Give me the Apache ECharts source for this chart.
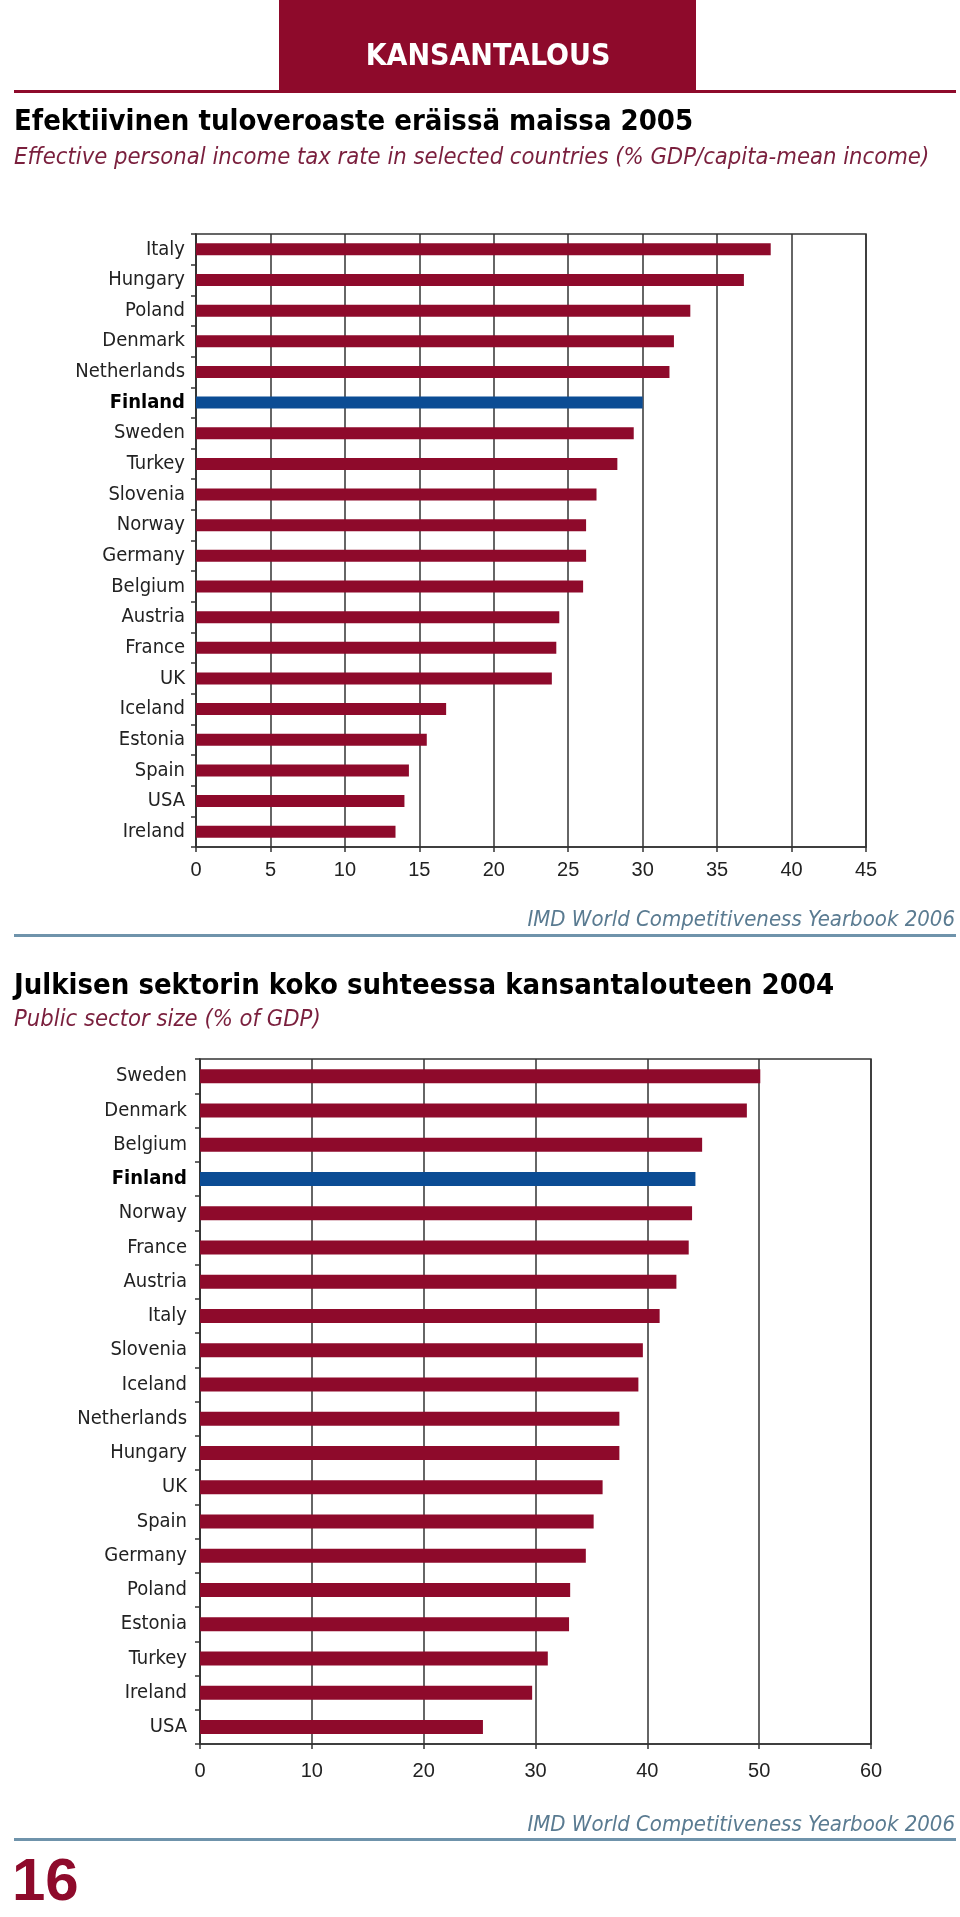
<!DOCTYPE html>
<html>
<head>
<meta charset="utf-8">
<script src="https://cdn.jsdelivr.net/npm/echarts@6/dist/echarts.min.js"></script>
<style>
html,body{margin:0;padding:0;background:#fff;}
#c{width:960px;height:1917px;}
</style>
</head>
<body>
<div id="c"></div>
<script>
// ---- data ----
const cats1 = ['Italy','Hungary','Poland','Denmark','Netherlands','Finland','Sweden','Turkey','Slovenia','Norway','Germany','Belgium','Austria','France','UK','Iceland','Estonia','Spain','USA','Ireland'];
const vals1 = [38.6,36.8,33.2,32.1,31.8,30.0,29.4,28.3,26.9,26.2,26.2,26.0,24.4,24.2,23.9,16.8,15.5,14.3,14.0,13.4];
const cats2 = ['Sweden','Denmark','Belgium','Finland','Norway','France','Austria','Italy','Slovenia','Iceland','Netherlands','Hungary','UK','Spain','Germany','Poland','Estonia','Turkey','Ireland','USA'];
const vals2 = [50.1,48.9,44.9,44.3,44.0,43.7,42.6,41.1,39.6,39.2,37.5,37.5,36.0,35.2,34.5,33.1,33.0,31.1,29.7,25.3];
const highlight = 'Finland';
const header = 'KANSANTALOUS';
const title1 = 'Efektiivinen tuloveroaste eräissä maissa 2005';
const sub1 = 'Effective personal income tax rate in selected countries (% GDP/capita-mean income)';
const title2 = 'Julkisen sektorin koko suhteessa kansantalouteen 2004';
const sub2 = 'Public sector size (% of GDP)';
const source = 'IMD World Competitiveness Yearbook 2006';
const pageNo = '16';

const RED = '#8e0a2b', BLUE = '#0b4c94', AX = '#333333';
const NARROW = "'Liberation Sans Narrow','DejaVu Sans Condensed','Liberation Sans',sans-serif";
const SANS = "'Liberation Sans',Arial,sans-serif";

function barData(cats, vals){
  return vals.map((v,i)=>({value:v, itemStyle:{color: cats[i]===highlight ? BLUE : RED}}));
}
function yAxis(idx, cats, margin){
  return {
    type:'category', gridIndex:idx, data:cats, inverse:true,
    axisLine:{show:true, lineStyle:{color:AX, width:1.5}},
    axisTick:{show:true, length:5, lineStyle:{color:AX, width:1.5}},
    axisLabel:{margin:margin, color:'#222', fontSize:20, fontFamily:NARROW,
      formatter:(v)=> v===highlight ? '{b|'+v+'}' : v,
      rich:{b:{fontWeight:'bold', color:'#000', fontSize:20, fontFamily:NARROW}}}
  };
}
function xAxis(idx, max, interval, margin){
  return {
    type:'value', gridIndex:idx, min:0, max:max, interval:interval,
    axisLine:{show:true, lineStyle:{color:AX, width:1.5}},
    axisTick:{show:true, length:5, lineStyle:{color:AX, width:1.5}},
    splitLine:{show:true, lineStyle:{color:AX, width:1.5}},
    axisLabel:{margin:margin, color:'#222', fontSize:20, fontFamily:SANS}
  };
}
function txt(text, x, y, size, opts){
  return Object.assign({type:'text', x:x, y:y, style:Object.assign({
    text:text, fontSize:size, fontFamily:NARROW, fill:'#111',
    textAlign:'left', textVerticalAlign:'middle', align:'left', verticalAlign:'middle'
  }, opts||{})});
}

const chart = echarts.init(document.getElementById('c'), null, {renderer:'canvas'});
chart.setOption({
  animation:false,
  backgroundColor:'#fff',
  grid:[
    {left:196, top:234, width:670, height:613, show:true, borderColor:AX, borderWidth:1.5, containLabel:false},
    {left:200, top:1059, width:671, height:685, show:true, borderColor:AX, borderWidth:1.5, containLabel:false}
  ],
  xAxis:[xAxis(0,45,5,13), xAxis(1,60,10,17)],
  yAxis:[yAxis(0,cats1,11), yAxis(1,cats2,13)],
  series:[
    {type:'bar', xAxisIndex:0, yAxisIndex:0, data:barData(cats1, vals1), barWidth:12},
    {type:'bar', xAxisIndex:1, yAxisIndex:1, data:barData(cats2, vals2), barWidth:14}
  ],
  graphic:[
    {type:'rect', shape:{x:279, y:0, width:417, height:92}, style:{fill:RED}},
    {type:'rect', shape:{x:14, y:90, width:942, height:3}, style:{fill:RED}},
    txt(header, 488, 57, 30, {fill:'#fff', fontWeight:'bold', textAlign:'center', align:'center'}),
    txt(title1, 14, 122, 29, {fontWeight:'bold', fill:'#000'}),
    txt(sub1, 14, 158, 23.6, {fontStyle:'italic', fill:'#7a1f3d'}),
    txt(source, 955, 920, 22, {fontStyle:'italic', fill:'#5a7b91', textAlign:'right', align:'right'}),
    {type:'rect', shape:{x:14, y:934, width:942, height:3}, style:{fill:'#6f93ab'}},
    txt(title2, 14, 986, 29, {fontWeight:'bold', fill:'#000'}),
    txt(sub2, 14, 1020, 23.6, {fontStyle:'italic', fill:'#7a1f3d'}),
    txt(source, 955, 1825, 22, {fontStyle:'italic', fill:'#5a7b91', textAlign:'right', align:'right'}),
    {type:'rect', shape:{x:14, y:1838, width:942, height:3}, style:{fill:'#6f93ab'}},
    txt(pageNo, 12, 1883, 60, {fontWeight:'bold', fill:RED, fontFamily:SANS})
  ]
});
</script>
</body>
</html>
